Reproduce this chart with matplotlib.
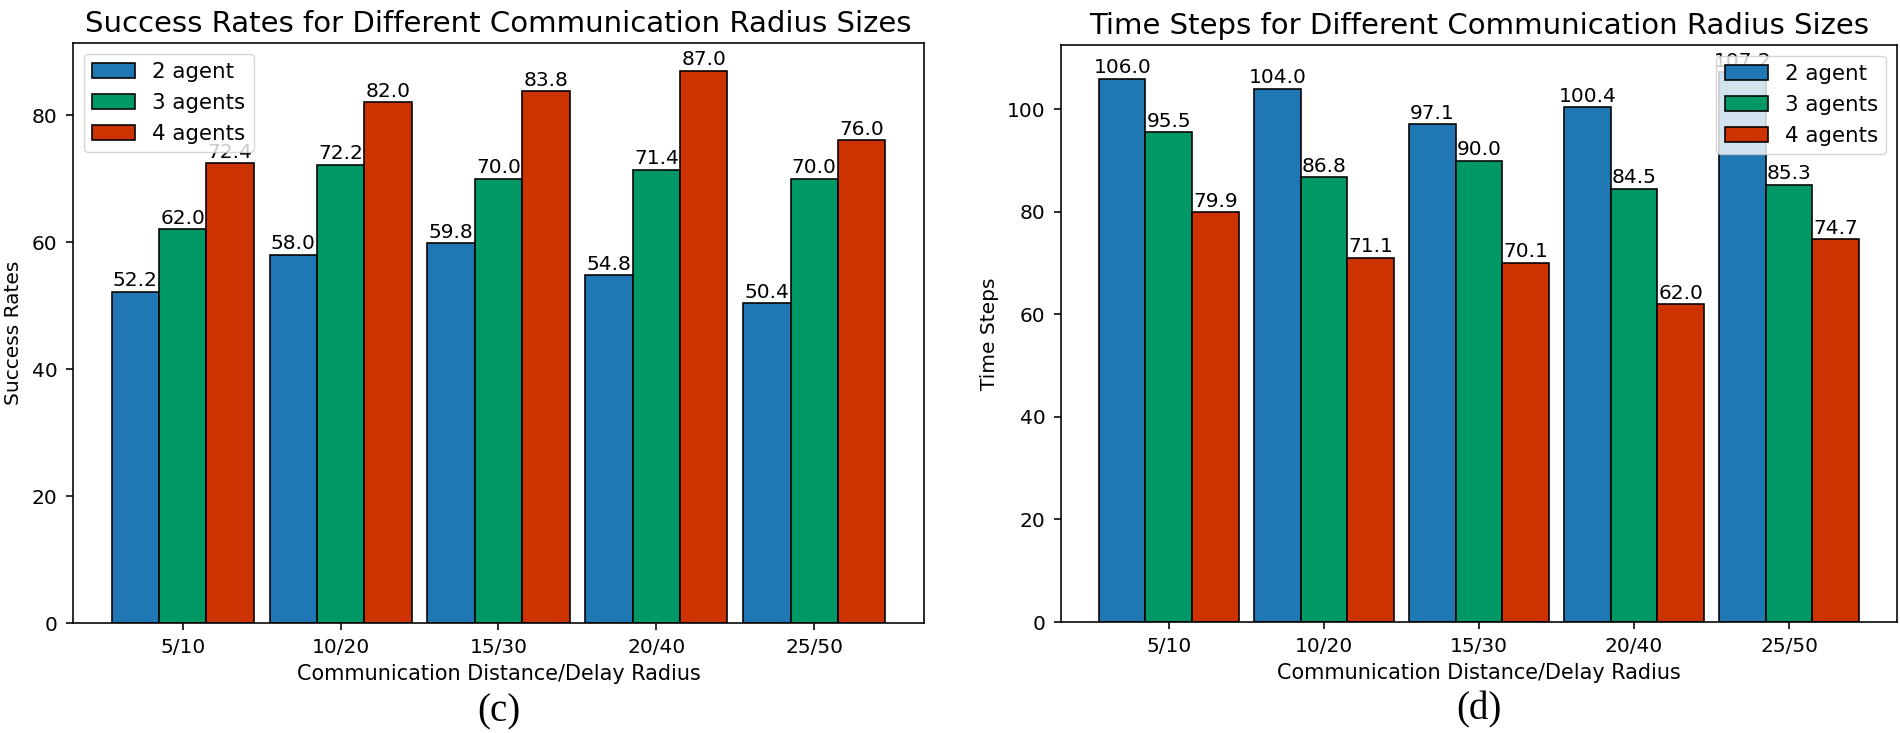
import matplotlib
matplotlib.use("Agg")
import matplotlib.pyplot as plt
import numpy as np

categories = ["5/10", "10/20", "15/30", "20/40", "25/50"]
series_names = ["2 agent", "3 agents", "4 agents"]
success_2 = [52.2, 58.0, 59.8, 54.8, 50.4]
success_3 = [62.0, 72.2, 70.0, 71.4, 70.0]
success_4 = [72.4, 82.0, 83.8, 87.0, 76.0]
steps_2 = [106.0, 104.0, 97.1, 100.4, 107.2]
steps_3 = [95.5, 86.8, 90.0, 84.5, 85.3]
steps_4 = [79.9, 71.1, 70.1, 62.0, 74.7]

colors = ["#1f77b4", "#009966", "#cc3300"]
S = 1.45
plt.rcParams["font.family"] = ["DejaVu Sans"]

fig = plt.figure(figsize=(19, 7.33), dpi=100)
ax1 = fig.add_axes([0.0384, 0.150, 0.4479, 0.7913])
ax2 = fig.add_axes([0.5584, 0.1514, 0.4400, 0.7872])

x = np.arange(len(categories))
w = 0.3

def draw(ax, data, title, ylabel, legend_loc, caption):
    for i, (vals, name) in enumerate(zip(data, series_names)):
        bars = ax.bar(x + (i - 1) * w, vals, w, color=colors[i], edgecolor="black",
                      linewidth=0.8 * S, label=name)
        ax.bar_label(bars, labels=[f"{v:.1f}" for v in vals], padding=1, fontsize=10 * S)
    ax.set_xticks(x)
    ax.set_xticklabels(categories)
    ax.tick_params(labelsize=10 * S, length=3.5 * S, width=0.8 * S, pad=6)
    for sp in ax.spines.values():
        sp.set_linewidth(0.8 * S)
    ax.set_title(title, fontsize=21, pad=8)
    ax.set_ylabel(ylabel, fontsize=10 * S, labelpad=6)
    ax.set_xlabel("Communication Distance/Delay Radius", fontsize=10.3 * S, labelpad=5)
    ax.legend(loc=legend_loc, fontsize=10.6 * S)
    ax.text(0.5, -0.153, caption, transform=ax.transAxes, ha="center", va="center",
            fontsize=28, family=["Liberation Serif"])

draw(ax1, [success_2, success_3, success_4], "Success Rates for Different Communication Radius Sizes",
     "Success Rates", "upper left", "(c)")
draw(ax2, [steps_2, steps_3, steps_4], "Time Steps for Different Communication Radius Sizes",
     "Time Steps", "upper right", "(d)")

fig.savefig("out.png", dpi=100)
